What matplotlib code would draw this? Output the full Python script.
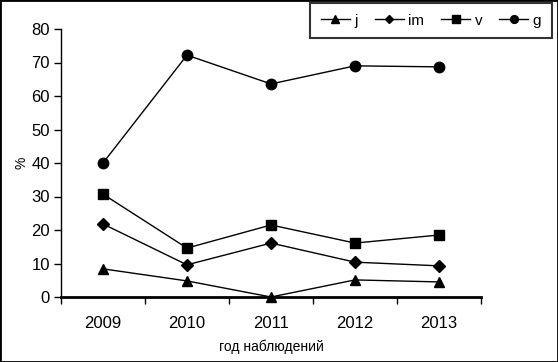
import matplotlib
matplotlib.use("Agg")
import matplotlib.pyplot as plt
from matplotlib.patches import Rectangle

plt.rcParams['font.family'] = ['Liberation Sans', 'DejaVu Sans']

years = ['2009', '2010', '2011', '2012', '2013']
j = [8.4, 4.8, 0.0, 5.1, 4.5]
im = [21.8, 9.6, 16.1, 10.4, 9.3]
v = [30.7, 14.6, 21.5, 16.1, 18.5]
g = [40.0, 72.2, 63.6, 69.0, 68.7]

fig = plt.figure(figsize=(5.58, 3.62), dpi=100)
ax = fig.add_axes([61/558, 65/362, 420/558, 268/362])

x = list(range(len(years)))
ax.plot(x, j, color='black', lw=1, marker='^', ms=7.5, label='j')
ax.plot(x, im, color='black', lw=1, marker='D', ms=6, label='im')
ax.plot(x, v, color='black', lw=1, marker='s', ms=7, label='v')
ax.plot(x, g, color='black', lw=1, marker='o', ms=7.5, label='g')

ax.set_xlim(-0.5, 4.5)
ax.set_ylim(0, 80)
ax.set_yticks(range(0, 81, 10))
ax.set_xticks(x)
ax.set_xticklabels(years)
ax.set_xticks([i - 0.5 for i in range(6)], minor=True)
ax.tick_params(axis='x', which='major', length=0, pad=14, labelsize=12)
ax.tick_params(axis='x', which='minor', length=5, width=1, direction='out')
ax.tick_params(axis='y', length=5, width=1, direction='out', labelsize=12, pad=3)
ax.spines['top'].set_visible(False)
ax.spines['right'].set_visible(False)
ax.spines['left'].set_linewidth(1)
ax.spines['bottom'].set_linewidth(2)
ax.spines['bottom'].set_zorder(0)
for l in ax.lines:
    l.set_clip_on(False)

ax.set_ylabel('%', fontsize=10, labelpad=2)
ax.set_xlabel('год наблюдений', fontsize=10, labelpad=6)

leg = fig.legend(loc='upper right', bbox_to_anchor=(552/558, 1 - 3/362), ncol=4,
                 frameon=True, fancybox=False, edgecolor='black', fontsize=11,
                 handlelength=1.9, handletextpad=0.3, columnspacing=1.1,
                 borderpad=0.7, borderaxespad=0, markerscale=0.75)
leg.get_frame().set_linewidth(1.5)

fig.patches.append(Rectangle((0, 0), 1, 1, transform=fig.transFigure,
                             fill=False, edgecolor='black', lw=2))
fig.savefig('out.png', dpi=100)
